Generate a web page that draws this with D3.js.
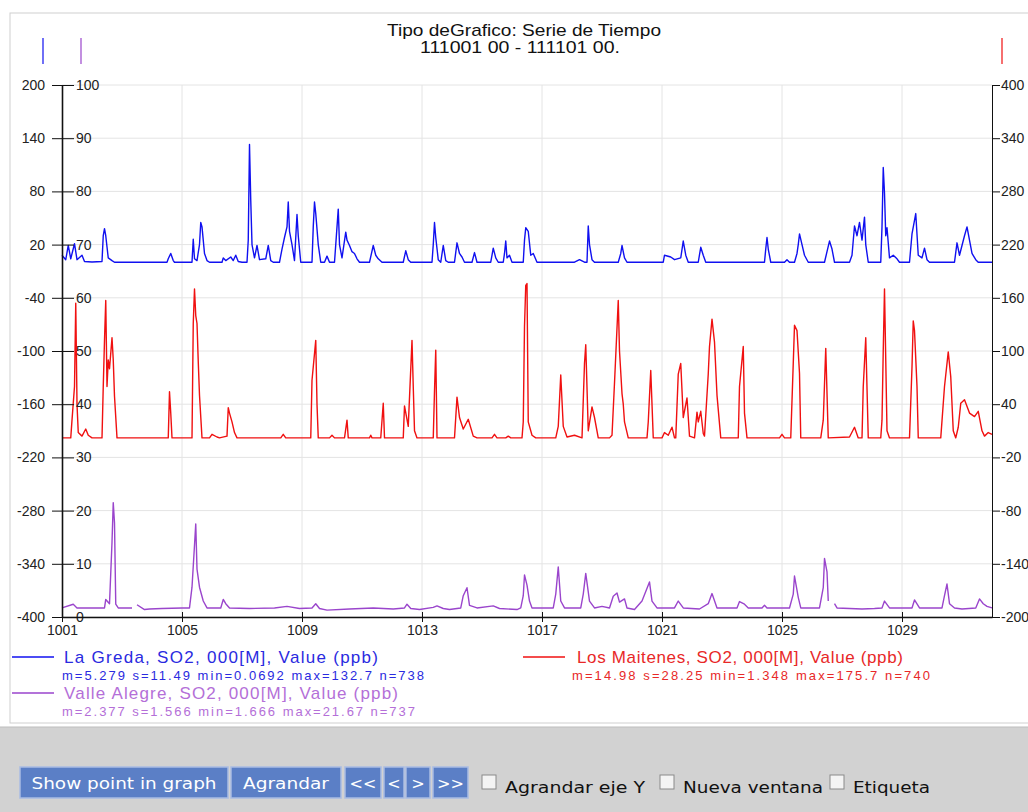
<!DOCTYPE html>
<html>
<head>
<meta charset="utf-8">
<script src="https://cdn.jsdelivr.net/npm/d3@7"></script>
<style>
  body { margin: 0; background: #fff; }
  svg { display: block; }
  .axis text { font-family: "Liberation Sans", Arial, sans-serif; font-size: 14px; fill: #222; }
  .axis path, .axis line { stroke: #111; }
  .grid line { stroke: #e4e4e4; stroke-width: 1; }
  .lbl { font-family: "Liberation Sans", Arial, sans-serif; }
  .btn text { font-family: "DejaVu Sans", Verdana, sans-serif; font-size: 16px; fill: #fff; }
  .chk text { font-family: "DejaVu Sans", Verdana, sans-serif; font-size: 16px; fill: #111; }
</style>
</head>
<body>
<div id="chart"></div>
<script>
//Margins and other global variables
var margin = {top: 85, right: 36, bottom: 195, left: 62};
var pageWidth = 1028, pageHeight = 812;
var width = pageWidth - margin.left - margin.right,
		height = pageHeight - margin.top - margin.bottom;

//x axis: hours since 1001 00
var hourDomain = [0, 744];
var xTickHours = [0, 96, 192, 288, 384, 480, 576, 672];
var xTickLabels = ["1001", "1005", "1009", "1013", "1017", "1021", "1025", "1029"];

var blueTicks = [200, 140, 80, 20, -40, -100, -160, -220, -280, -340, -400];
var purpleTicks = [100, 90, 80, 70, 60, 50, 40, 30, 20, 10, 0];
var redTicks = [400, 340, 280, 220, 160, 100, 40, -20, -80, -140, -200];

var seriesNames = ["La Greda, SO2, 000[M], Value (ppb)",
	"Los Maitenes, SO2, 000[M], Value (ppb)",
	"Valle Alegre, SO2, 000[M], Value (ppb)"];
var seriesStats = ["m=5.279 s=11.49 min=0.0692 max=132.7 n=738",
	"m=14.98 s=28.25 min=1.348 max=175.7 n=740",
	"m=2.377 s=1.566 min=1.666 max=21.67 n=737"];

// La Greda [hour, ppb]
var laGreda = [[0,8],[3,3],[5,19],[7,4],[10,21],[12,3],[16,8],[18,1],[24,0.3],
	[32,1],[33,30],[34,38],[35,30],[37,5],[40,2],[42,0.1],
	[84,0.1],[85,4],[87,10],[89,2],[90,0.1],
	[104,0.1],[105,26],[106,4],[108,2],[110,20],[111,45],[112,40],[114,10],[116,2],[118,0.1],
	[128,0.1],[129,5],[131,2],[135,6],[137,2],[139,8],[141,1],[144,0.1],
	[148,0.1],[149,25],[150,133],[151,70],[152,20],[154,5],[156,19],[158,3],[163,4],[165,19],[167,2],[169,0.1],
	[174,0.1],[176,15],[178,28],[180,40],[181,68],[182,35],[184,20],[186,2],[188,54],[189,30],[191,0.1],
	[200,0.1],[201,40],[202,68],[203,55],[205,20],[207,0.1],
	[210,0.1],[212,7],[214,0.1],
	[218,0.1],[219,20],[221,60],[222,20],[224,5],[227,34],[228,25],[230,19],[232,12],[234,10],[236,4],[238,0.1],
	[246,0.1],[249,19],[251,8],[253,4],[256,0.1],
	[273,0.1],[275,13],[277,3],[279,0.1],
	[296,0.1],[297,20],[298,45],[299,28],[301,3],[303,0.1],[305,19],[307,2],[309,0.1],
	[314,0.1],[316,22],[318,10],[320,6],[322,0.1],
	[328,0.1],[330,11],[332,0.1],
	[343,0.1],[345,16],[347,5],[349,0.1],
	[353,0.1],[354,10],[355,24],[356,5],[358,8],[360,0.1],
	[369,0.1],[370,25],[371,39],[373,35],[375,8],[377,10],[380,0.1],
	[410,0.1],[414,3],[418,0.1],
	[420,0.1],[421,41],[422,20],[424,3],[426,0.1],
	[445,0.1],[447,10],[448,19],[450,5],[452,0.1],
	[481,0.1],[482,8],[487,6],[490,3],[495,5],[497,24],[499,8],[501,0.1],
	[509,0.1],[511,17],[513,8],[515,0.1],
	[562,0.1],[563,15],[564,28],[565,15],[567,0.1],
	[578,0.1],[580,3],[582,0.1],
	[586,0.1],[588,10],[589,20],[590,32],[592,20],[594,8],[597,0.1],
	[610,0.1],[612,12],[614,24],[616,15],[618,0.1],
	[630,0.1],[632,8],[634,41],[636,30],[638,45],[640,25],[642,51],[643,20],[645,0.1],
	[655,0.1],[656,40],[657,107],[658,78],[659,30],[660,39],[662,5],[665,8],[668,4],[670,0.1],
	[678,0.1],[680,32],[683,55],[685,8],[688,5],[690,16],[692,3],[694,0.1],
	[714,0.1],[716,22],[718,8],[722,30],[724,40],[726,25],[728,10],[731,3],[733,0.1],[744,0.1]];

// Los Maitenes [hour, ppb]
var losMaitenes = [[0,2],[7,2],[8,22],[10,60],[11,154],[12,40],[13,8],[16,4],[19,12],[21,5],[24,2],
	[32,2],[33,60],[34,112],[35,157],[36,60],[37,90],[38,80],[40,115],[41,90],[42,49],[44,2],
	[85,2],[86,54],[87,30],[88,2],
	[104,2],[105,131],[106,170],[107,140],[108,131],[109,88],[110,50],[112,2],
	[118,2],[120,6],[124,3],[126,2],
	[132,4],[133,36],[134,30],[136,20],[138,8],[140,2],
	[175,2],[177,6],[179,2],
	[199,2],[200,67],[203,112],[204,40],[205,2],
	[214,2],[216,5],[218,2],
	[226,2],[228,22],[229,2],
	[246,2],[247,5],[248,2],
	[255,2],[257,41],[258,2],
	[273,2],[274,38],[277,15],[280,112],[281,60],[282,10],[284,2],
	[297,2],[298,55],[299,101],[300,2],
	[314,2],[316,48],[318,25],[321,12],[325,23],[329,4],[332,2],
	[344,2],[346,6],[348,2],
	[355,2],[357,4],[359,2],
	[368,2],[369,20],[370,128],[371,174],[372,176],[373,20],[376,5],[379,2],
	[395,2],[397,15],[399,73],[401,15],[404,3],[410,5],[416,2],
	[418,86],[419,107],[421,10],[424,37],[426,25],[429,2],
	[438,2],[440,5],[442,64],[445,157],[446,100],[448,52],[449,40],[450,20],[453,2],
	[468,2],[469,20],[471,78],[473,2],
	[480,2],[482,8],[485,5],[488,14],[490,2],
	[491,2],[493,74],[495,86],[497,25],[500,47],[502,4],
	[506,2],[508,31],[509,20],[511,32],[513,7],
	[514,4],[517,74],[518,105],[520,136],[522,110],[524,50],[527,2],
	[541,2],[542,60],[545,105],[546,30],[548,2],
	[574,2],[576,6],[578,2],
	[583,2],[585,86],[586,129],[588,123],[590,75],[591,2],
	[607,2],[609,22],[611,103],[613,2],
	[630,3],[634,14],[637,2],
	[640,2],[641,60],[643,115],[645,2],
	[655,2],[656,22],[657,101],[658,170],[660,10],[662,2],
	[678,2],[680,82],[681,134],[682,123],[684,60],[685,2],
	[703,2],[706,60],[709,99],[711,71],[713,10],
	[715,2],[717,14],[719,41],[722,45],[726,30],[730,26],[733,32],[736,10],[738,4],[741,8],[744,6]];

// Valle Alegre [hour, ppb], null = missing
var valleAlegre = [[0,1.7],[9,2.4],[12,1.7],[34,1.7],[35,3.3],[38,2.5],[40,14],[41,21.5],[42,17.7],[43,2.4],[45,1.7],
	[56,1.7],[57,null],[60,2.3],[66,1.4],[70,1.5],[80,1.6],[96,1.7],
	[102,1.7],[104,5.6],[106,13.5],[107,17.5],[108,9],[110,5.6],[113,3],[116,1.7],
	[127,1.7],[129,3.3],[131,2.5],[134,1.7],
	[150,1.6],[170,1.7],[180,2.0],[190,1.6],[200,1.7],[203,2.5],[206,1.6],[212,1.3],[230,1.5],[249,1.7],
	[265,1.5],[274,1.7],[276,2.4],[279,1.6],[286,1.4],[297,1.8],[300,2.1],[305,1.6],[310,1.4],
	[319,1.7],[321,4],[324,5.5],[326,2.2],[332,1.7],[345,2.1],[350,1.6],[364,1.4],
	[367,1.7],[369,4],[370,7.9],[372,6],[374,3],[376,1.7],
	[393,1.7],[395,4.3],[397,9.4],[399,3],[402,1.7],
	[415,1.7],[417,4.3],[419,8.2],[422,3],[426,1.7],[432,2.0],
	[438,1.7],[441,3.9],[444,4.5],[446,2.8],[450,3.4],[452,1.7],
	[458,1.4],[464,3],[470,6.6],[472,3],[476,1.7],
	[490,1.7],[493,3.0],[497,1.7],
	[510,1.5],[517,2.5],[520,4.4],[524,1.7],
	[540,1.7],[542,2.9],[546,2.4],[549,1.7],
	[560,1.7],[562,2.2],[564,1.7],
	[582,1.7],[585,4.3],[586,7.7],[589,3.7],[591,1.7],
	[606,1.7],[609,5.5],[610,11],[612,8.5],[613,3],[614,null],[618,2.5],[620,1.7],
	[640,1.5],[650,1.6],[656,1.7],[658,3.0],[662,1.7],
	[680,1.7],[682,3.2],[686,1.7],
	[704,1.7],[706,4],[708,6.2],[710,2.5],[714,1.7],[720,1.5],
	[731,1.7],[734,3.4],[737,2.5],[740,2.0],[744,1.7]];

var blueColor = "#1010f0", redColor = "#f01010", purpleColor = "#9a45cc";

var svg = d3.select("#chart")
	.append("svg")
	.attr("width", pageWidth)
	.attr("height", pageHeight);

//frame and bottom panel
svg.append("rect").attr("x", 10).attr("y", 13).attr("width", 1030).attr("height", 710)
	.attr("fill", "#fff").attr("stroke", "#cfcfcf");
svg.append("rect").attr("x", 0).attr("y", 727).attr("width", pageWidth).attr("height", 85)
	.attr("fill", "#d2d2d2");
svg.append("line").attr("x1", 0).attr("x2", pageWidth).attr("y1", 727).attr("y2", 727)
	.attr("stroke", "#bdbdbd");

//title
svg.append("text").attr("class", "lbl").attr("x", 524).attr("y", 36)
	.attr("text-anchor", "middle").attr("font-size", 17).attr("fill", "#111")
	.attr("textLength", 274).attr("lengthAdjust", "spacingAndGlyphs")
	.text("Tipo deGrafico: Serie de Tiempo");
svg.append("text").attr("class", "lbl").attr("x", 520).attr("y", 53)
	.attr("text-anchor", "middle").attr("font-size", 17).attr("fill", "#111")
	.attr("textLength", 200).attr("lengthAdjust", "spacingAndGlyphs")
	.text("111001 00 - 111101 00.");

//axis colour markers
[[43, blueColor], [81, purpleColor], [1002, redColor]].forEach(function(m){
	svg.append("line").attr("x1", m[0]).attr("x2", m[0]).attr("y1", 38).attr("y2", 64)
		.attr("stroke", m[1]).attr("stroke-width", 1.2);
});

var chart = svg.append("g")
	.attr("transform", "translate(" + margin.left + "," + margin.top + ")");

var xscale = d3.scaleLinear().domain(hourDomain).range([0, width]);
var yBlue = d3.scaleLinear().domain([-400, 200]).range([height, 0]);
var yPurple = d3.scaleLinear().domain([0, 100]).range([height, 0]);
var yRed = d3.scaleLinear().domain([-200, 400]).range([height, 0]);

//grid
chart.append("g").attr("class", "grid")
	.selectAll("line").data(blueTicks).enter().append("line")
	.attr("x1", 0).attr("x2", width)
	.attr("y1", function(d){ return yBlue(d); })
	.attr("y2", function(d){ return yBlue(d); });
chart.append("g").attr("class", "grid")
	.selectAll("line").data(xTickHours.slice(1)).enter().append("line")
	.attr("y1", 0).attr("y2", height)
	.attr("x1", function(d){ return xscale(d); })
	.attr("x2", function(d){ return xscale(d); });

//series
function drawSeries(data, yscale, color){
	var line = d3.line()
		.defined(function(d){ return d[1] !== null; })
		.x(function(d){ return xscale(d[0]); })
		.y(function(d){ return yscale(d[1]); });
	chart.append("path")
		.datum(data)
		.attr("fill", "none")
		.attr("stroke", color)
		.attr("stroke-width", 1.4)
		.attr("stroke-linejoin", "round")
		.attr("d", line);
}
drawSeries(laGreda, yBlue, blueColor);
drawSeries(losMaitenes, yRed, redColor);
drawSeries(valleAlegre, yPurple, purpleColor);

//axes (plain hyphen for negatives, as in the original)
var plain = function(d){ return String(d); };
var blueAxis = d3.axisLeft(yBlue).tickValues(blueTicks).tickFormat(plain).tickSize(10).tickPadding(7).tickSizeOuter(0);
var purpleAxis = d3.axisRight(yPurple).tickValues(purpleTicks).tickFormat(plain).tickSize(12).tickPadding(2).tickSizeOuter(0);
var redAxis = d3.axisRight(yRed).tickValues(redTicks).tickFormat(plain).tickSize(8).tickPadding(1).tickSizeOuter(0);
var xAxis = d3.axisBottom(xscale).tickValues(xTickHours)
	.tickFormat(function(d, i){ return xTickLabels[i]; })
	.tickSize(5).tickPadding(3).tickSizeOuter(0);

var gb = chart.append("g").attr("class", "axis").call(blueAxis);
gb.select(".domain").attr("stroke-width", 1.6);
chart.append("g").attr("class", "axis").call(purpleAxis).select(".domain").remove();
var gr = chart.append("g").attr("class", "axis")
	.attr("transform", "translate(" + width + ",0)")
	.call(redAxis);
gr.selectAll(".tick text").attr("font-size", 12);
var gx = chart.append("g").attr("class", "axis")
	.attr("transform", "translate(0," + height + ")")
	.call(xAxis);
gx.select(".domain").attr("stroke-width", 1.4);
gx.selectAll(".tick line").attr("y1", -5);
gx.selectAll(".tick text").attr("font-size", 15);

//legend
var legend = [
	{name: seriesNames[0], stats: seriesStats[0], color: blueColor, text: "#2a2ae0", lx: 12, tx: 64, sx: 62, y: 657, w: 314, sw: 362},
	{name: seriesNames[1], stats: seriesStats[1], color: redColor, text: "#e82828", lx: 523, tx: 577, sx: 572, y: 657, w: 326, sw: 358},
	{name: seriesNames[2], stats: seriesStats[2], color: purpleColor, text: "#b46fd8", lx: 12, tx: 64, sx: 62, y: 693, w: 334, sw: 353}
];
var lg = svg.selectAll(".legend").data(legend).enter().append("g").attr("class", "legend");
lg.append("line")
	.attr("x1", function(d){ return d.lx; })
	.attr("x2", function(d){ return d.lx + 42; })
	.attr("y1", function(d){ return d.y; })
	.attr("y2", function(d){ return d.y; })
	.attr("stroke", function(d){ return d.color; })
	.attr("stroke-width", 1.4);
lg.append("text").attr("class", "lbl")
	.attr("x", function(d){ return d.tx; })
	.attr("y", function(d){ return d.y + 6; })
	.attr("font-size", 17)
	.attr("textLength", function(d){ return d.w; })
	.attr("fill", function(d){ return d.text; })
	.text(function(d){ return d.name; });
lg.append("text").attr("class", "lbl")
	.attr("x", function(d){ return d.sx; })
	.attr("y", function(d){ return d.y + 23; })
	.attr("font-size", 13)
	.attr("textLength", function(d){ return d.sw; })
	.attr("fill", function(d){ return d.text; })
	.text(function(d){ return d.stats; });

//buttons
var buttons = [["Show point in graph", 20, 208, 185], ["Agrandar", 231, 110, 86], ["<<", 345, 36, 0],
	["<", 384, 20, 0], [">", 406, 24, 0], [">>", 433, 35, 0]];
var bg = svg.selectAll(".btn").data(buttons).enter().append("g").attr("class", "btn");
bg.append("rect")
	.attr("x", function(d){ return d[1]; }).attr("y", 767)
	.attr("width", function(d){ return d[2]; }).attr("height", 31)
	.attr("fill", "#5b7fc6").attr("stroke", "#a9bce3").attr("stroke-width", 1.5);
bg.append("text")
	.attr("x", function(d){ return d[1] + d[2] / 2; }).attr("y", 789)
	.attr("text-anchor", "middle")
	.attr("textLength", function(d){ return d[3] || null; })
	.attr("lengthAdjust", "spacingAndGlyphs")
	.text(function(d){ return d[0]; });

var checks = [["Agrandar eje Y", 482, 140], ["Nueva ventana", 660, 140], ["Etiqueta", 830, 77]];
var cg = svg.selectAll(".chk").data(checks).enter().append("g").attr("class", "chk");
cg.append("rect")
	.attr("x", function(d){ return d[1]; }).attr("y", 775)
	.attr("width", 14).attr("height", 14)
	.attr("fill", "#f4f4f4").attr("stroke", "#8a8a8a");
cg.append("text")
	.attr("x", function(d){ return d[1] + 23; }).attr("y", 793)
	.attr("textLength", function(d){ return d[2]; })
	.attr("lengthAdjust", "spacingAndGlyphs")
	.text(function(d){ return d[0]; });
</script>
</body>
</html>
